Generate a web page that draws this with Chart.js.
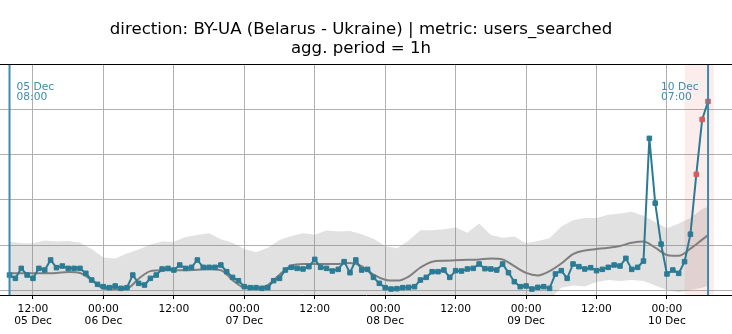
<!DOCTYPE html>
<html>
<head>
<meta charset="utf-8">
<script src="https://cdn.jsdelivr.net/npm/chart.js@4.4.1/dist/chart.umd.min.js"></script>
<style>
  html, body { margin: 0; padding: 0; background: #fff; }
</style>
</head>
<body>
<canvas id="chart" width="732" height="334"></canvas>
<script>
// hours counted from 05 Dec 00:00
const firstHour = 8; // 05 Dec 08:00, one point per hour
const obsValues = [
  3.33, 2.59, 4.81, 3.33, 2.59, 4.81, 4.44, 6.67, 4.96, 5.33,
  4.81, 4.81, 4.81, 3.70, 2.22, 1.26, 0.74, 0.52, 0.89, 0.37,
  0.52, 3.33, 1.48, 1.11, 2.59, 3.33, 4.67, 4.81, 4.44, 5.56,
  4.81, 5.04, 6.67, 5.04, 5.04, 5.04, 5.56, 4.07, 2.81, 2.07,
  0.74, 0.52, 0.52, 0.37, 0.52, 2.07, 2.59, 4.44, 5.04, 4.81,
  4.67, 5.19, 6.81, 5.04, 4.81, 4.22, 4.59, 6.30, 3.85, 6.67,
  4.44, 4.59, 2.81, 1.48, 0.52, 0.22, 0.30, 0.52, 0.59, 0.74,
  2.22, 2.81, 4.07, 4.07, 4.44, 2.81, 4.30, 4.22, 4.67, 4.81,
  5.78, 4.74, 4.67, 4.44, 5.78, 3.85, 1.85, 0.74, 0.89, 0.22,
  0.59, 0.74, 0.37, 3.56, 4.30, 2.59, 5.78, 5.19, 4.67, 4.96,
  4.30, 4.59, 5.04, 5.56, 5.33, 7.04, 4.59, 5.04, 6.44, 33.7,
  19.3, 10.2, 3.56, 4.44, 3.70, 6.30, 12.4, 25.7, 37.9, 41.9
];
const anomalyHours = [125, 126, 127];

// expected level and its band, read every 2 hours
const bandHours = [
  8, 10, 12, 14, 16, 18, 20, 22, 24, 26, 28, 30, 32, 34, 36, 38, 40, 42, 44, 46,
  48, 50, 52, 54, 56, 58, 60, 62, 64, 66, 68, 70, 72, 74, 76, 78, 80, 82, 84, 86,
  88, 90, 92, 94, 96, 98, 100, 102, 104, 106, 108, 110, 112, 114, 116, 118, 120, 122, 124, 126, 127
];
const expected = [
  3.7, 3.7, 3.7, 3.7, 3.8, 4.0, 3.8, 2.2, 0.4, 0.15, 0.3, 2.5, 4.2, 4.4, 4.4, 4.4, 4.5, 4.6, 4.4, 2.2,
  0.5, 0.4, 1.1, 3.4, 5.4, 5.8, 5.8, 5.8, 5.8, 6.0, 5.3, 3.4, 2.3, 2.1, 3.0, 5.0, 6.3, 6.5, 6.6, 6.7,
  6.8, 7.0, 6.8, 5.3, 3.8, 3.25, 4.2, 5.9, 8.0, 8.8, 9.1, 9.4, 9.8, 10.5, 10.8, 9.4, 7.8, 7.6, 9.2, 11.2, 12.2
];
const bandUpper = [
  10.7, 10.4, 10.4, 11.0, 10.8, 10.9, 10.5, 9.1, 7.2, 7.0, 8.1, 9.0, 10.1, 10.8, 10.7, 11.8, 12.2, 12.6, 11.3, 10.5,
  9.1, 8.4, 9.4, 11.1, 12.0, 12.6, 12.3, 13.2, 13.0, 13.1, 12.4, 11.4, 9.8, 9.3, 11.0, 13.3, 13.3, 13.5, 13.9, 12.7,
  14.8, 12.2, 11.6, 11.9, 10.4, 10.9, 11.5, 14.1, 15.5, 16.0, 16.0, 16.7, 17.0, 17.4, 16.5, 15.1, 13.7, 14.8, 16.0, 18.0, 18.5
];
const bandLower = [
  -3.3, -3.0, -3.0, -3.6, -3.2, -2.9, -2.9, -4.7, -6.4, -6.7, -7.5, -4.0, -1.7, -2.0, -1.9, -3.0, -3.2, -3.4, -2.5, -6.1,
  -8.1, -7.6, -7.2, -4.3, -1.2, -1.0, -1.5, -1.6, -1.4, -1.1, -1.8, -4.6, -5.2, -5.1, -5.0, -3.3, -1.7, -1.5, -1.7, -1.3,
  -1.2, -1.4, -2.0, -1.3, -2.8, -2.5, -2.0, 0.5, 1.0, 0.8, 1.8, 2.2, 2.0, 2.2, 2.0, 1.0, 0.0, -0.5, 0.0, 0.5, 1.0
];

// x axis ticks every 12 h
const tickHours = [12, 24, 36, 48, 60, 72, 84, 96, 108, 120];
const tickLabels = [
  ['12:00', '05 Dec'], ['00:00', '06 Dec'], ['12:00'], ['00:00', '07 Dec'], ['12:00'],
  ['00:00', '08 Dec'], ['12:00'], ['00:00', '09 Dec'], ['12:00'], ['00:00', '10 Dec']
];
const yGrid = [0, 10, 20, 30, 40];

// window start / end markers and the alert window
const markerHours = [8, 127];
const markerLabels = [['05 Dec', '08:00'], ['10 Dec', '07:00']];
const alertWindow = [123, 128];

const titleLines = ['direction: BY-UA (Belarus - Ukraine) | metric: users_searched', 'agg. period = 1h'];

const teal = '#2b7b95';
const markTeal = '#3a8db0';
const red = '#d95b5e';

const decor = {
  id: 'decor',
  beforeDatasetDraw(chart, args) {
    if (args.index !== 1) return;
    const { ctx, chartArea: a, scales: { x } } = chart;
    const x0 = x.getPixelForValue(alertWindow[0]);
    const x1 = x.getPixelForValue(alertWindow[1]);
    ctx.save();
    ctx.fillStyle = 'rgba(235, 70, 70, 0.1)';
    ctx.fillRect(x0, a.top, x1 - x0, a.bottom - a.top);
    ctx.restore();
  },
  afterDatasetsDraw(chart) {
    const { ctx, chartArea: a, scales: { x } } = chart;
    ctx.save();
    ctx.strokeStyle = markTeal;
    ctx.lineWidth = 2;
    ctx.fillStyle = markTeal;
    ctx.font = '10.7px "DejaVu Sans"';
    ctx.textBaseline = 'middle';
    ctx.textAlign = 'left';
    markerHours.forEach((h, i) => {
      const px = x.getPixelForValue(h);
      ctx.beginPath();
      ctx.moveTo(px, a.top);
      ctx.lineTo(px, a.bottom);
      ctx.stroke();
      // first label to the right of its line, last one to the left
      const tx = i === 0 ? px + 7 : px - 47;
      ctx.fillText(markerLabels[i][0], tx, a.top + 23);
      ctx.fillText(markerLabels[i][1], tx, a.top + 33.5);
    });
    // top spine
    ctx.strokeStyle = '#000';
    ctx.lineWidth = 1;
    ctx.beginPath();
    ctx.moveTo(a.left, a.top + 0.5);
    ctx.lineTo(a.right, a.top + 0.5);
    ctx.stroke();
    // title, centred over the (wider, cropped) axes
    ctx.fillStyle = '#000';
    ctx.font = '16.6px "DejaVu Sans"';
    ctx.textAlign = 'center';
    ctx.fillText(titleLines[0], 361, 29.5);
    ctx.fillText(titleLines[1], 361, 49);
    ctx.restore();
  }
};

new Chart(document.getElementById('chart'), {
  type: 'line',
  data: {
    datasets: [
      {
        label: 'users_searched',
        data: obsValues.map((v, i) => ({ x: firstHour + i, y: v })),
        borderColor: teal,
        borderWidth: 2,
        pointStyle: 'rect',
        pointRadius: 3.2,
        pointBorderWidth: 1,
        pointBackgroundColor: c => anomalyHours.includes(c.raw.x) ? red : teal,
        pointBorderColor: c => anomalyHours.includes(c.raw.x) ? red : teal,
        tension: 0
      },
      {
        label: 'expected',
        data: bandHours.map((h, i) => ({ x: h, y: expected[i] })),
        borderColor: '#7f7f7f',
        borderWidth: 2,
        pointRadius: 0,
        cubicInterpolationMode: 'monotone'
      },
      {
        label: 'upper',
        data: bandHours.map((h, i) => ({ x: h, y: bandUpper[i] })),
        borderWidth: 0,
        borderColor: 'rgba(0,0,0,0)',
        pointRadius: 0,
        fill: '+1',
        backgroundColor: 'rgba(128,128,128,0.24)'
      },
      {
        label: 'lower',
        data: bandHours.map((h, i) => ({ x: h, y: bandLower[i] })),
        borderWidth: 0,
        borderColor: 'rgba(0,0,0,0)',
        pointRadius: 0,
        fill: false
      }
    ]
  },
  options: {
    responsive: false,
    devicePixelRatio: 1,
    animation: false,
    layout: { autoPadding: false, padding: { top: 64, left: 0, right: 0, bottom: 0 } },
    plugins: {
      legend: { display: false },
      tooltip: { enabled: false },
      title: { display: false }
    },
    scales: {
      x: {
        type: 'linear',
        min: 6.38,
        max: 131.08,
        afterBuildTicks: s => { s.ticks = tickHours.map(v => ({ value: v })); },
        afterFit: s => { s.height = 39; s.paddingLeft = 0; s.paddingRight = 0; },
        ticks: {
          callback: (v, i) => tickLabels[i],
          color: '#000',
          font: { family: 'DejaVu Sans', size: 10.7, lineHeight: 1.15 },
          padding: 4,
          maxRotation: 0,
          autoSkip: false
        },
        grid: { color: '#b0b0b0', lineWidth: 1, tickColor: '#000', tickLength: 4 },
        border: { color: '#000', width: 1 }
      },
      y: {
        min: -1.11,
        max: 50.22,
        afterBuildTicks: s => { s.ticks = yGrid.map(v => ({ value: v })); },
        afterFit: s => { s.width = 0; s.paddingTop = 0; s.paddingBottom = 0; },
        ticks: { display: false },
        grid: { color: '#b0b0b0', lineWidth: 1, drawTicks: false },
        border: { display: false }
      }
    }
  },
  plugins: [decor]
});
</script>
</body>
</html>
